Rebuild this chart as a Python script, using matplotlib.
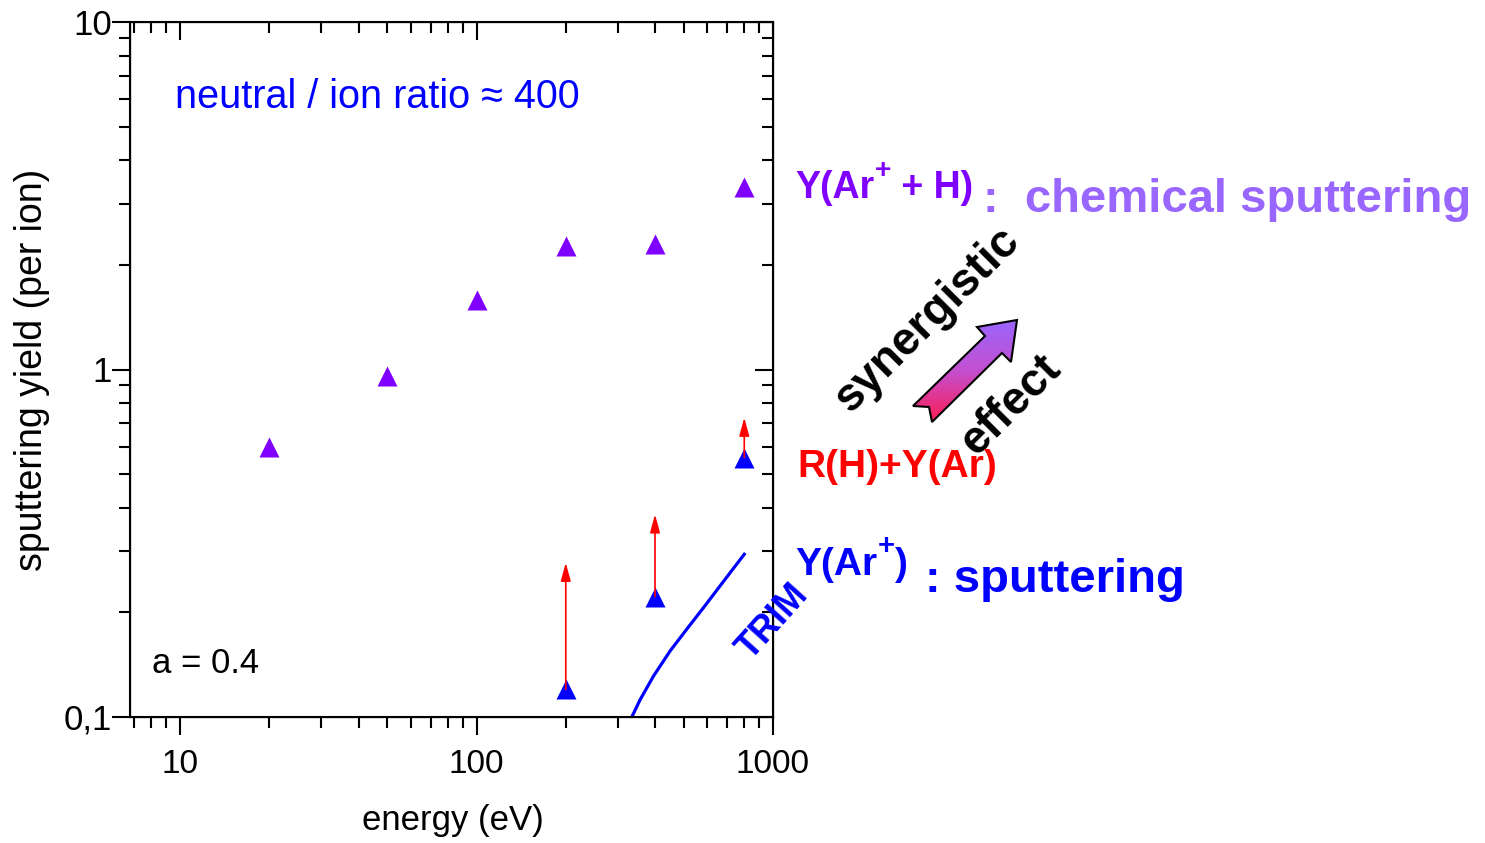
import numpy as np
import matplotlib
matplotlib.use('Agg')
import matplotlib.pyplot as plt
from matplotlib.patches import Polygon
from matplotlib.colors import LinearSegmentedColormap
from matplotlib.ticker import NullFormatter

plt.rcParams['font.family'] = ['Liberation Sans', 'DejaVu Sans']

# Ar+ + H bombardment (a = 0.4)
energy = [20, 50, 100, 200, 400, 800]
yield_ar_h = [0.60, 0.955, 1.58, 2.26, 2.30, 3.36]

# Ar+ alone, and R(H) + Y(Ar) reached on top of it
energy_ar = [200, 400, 800]
yield_ar = [0.12, 0.222, 0.558]
yield_rh_ar = [0.278, 0.383, 0.727]

# TRIM curve
trim_energy = [334, 356, 395, 450, 512, 582, 662, 800]
trim_yield = [0.100, 0.112, 0.131, 0.155, 0.179, 0.206, 0.238, 0.294]

x_ticks = [10, 100, 1000]
x_ticklabels = ['10', '100', '1000']
y_ticks = [0.1, 1, 10]
y_ticklabels = ['0,1', '1', '10']

PURPLE = '#8000ff'
LILAC = '#9966ff'
BLUE = '#0000ff'
RED = '#ff0000'

W, H = 1485, 843
fig = plt.figure(figsize=(W / 100, H / 100), dpi=100)
ax = fig.add_axes([130 / W, 1 - 717 / H, 643 / W, 695 / H])
ax.set_xscale('log')
ax.set_yscale('log')
xlim = (6.78, 1000)
ylim = (0.1, 10)
ax.set_xlim(*xlim)
ax.set_ylim(*ylim)

ax.plot(trim_energy, trim_yield, '-', color=BLUE, lw=2.3, zorder=2)
ax.plot(energy, yield_ar_h, '^', color=PURPLE, ms=14, mec='none', zorder=3)
ax.plot(energy_ar, yield_ar, '^', color=BLUE, ms=14, mec='none', zorder=3)
for e, y0, y1 in zip(energy_ar, yield_ar, yield_rh_ar):
    ax.annotate('', xy=(e, y1), xytext=(e, y0),
                arrowprops=dict(arrowstyle='-|>,head_length=1.1,head_width=0.3',
                                color=RED, lw=1.2, shrinkA=0, shrinkB=0),
                zorder=4)

ax.set_xticks(x_ticks, labels=x_ticklabels)
ax.set_yticks(y_ticks, labels=y_ticklabels)
ax.xaxis.set_minor_formatter(NullFormatter())
ax.yaxis.set_minor_formatter(NullFormatter())
ax.tick_params(which='both', direction='out', width=1.5, top=False, right=False)
ax.tick_params(which='major', length=13)
ax.tick_params(which='minor', length=8)
ax.tick_params(axis='x', pad=10, labelsize=24)
ax.tick_params(axis='y', pad=0, labelsize=25)
for s in ax.spines.values():
    s.set_linewidth(1.5)

# mirrored ticks pointing inwards on top and right
axr = ax.twinx()
axr.set_yscale('log')
axr.set_ylim(*ylim)
axr.set_yticks(y_ticks)
axr.yaxis.set_major_formatter(NullFormatter())
axr.yaxis.set_minor_formatter(NullFormatter())
axr.tick_params(which='both', direction='in', width=1.5, labelright=False)
axr.tick_params(which='major', length=13)
axr.tick_params(which='minor', length=8)

axt = ax.twiny()
axt.set_xscale('log')
axt.set_xlim(*xlim)
axt.set_xticks(x_ticks)
axt.xaxis.set_major_formatter(NullFormatter())
axt.xaxis.set_minor_formatter(NullFormatter())
axt.tick_params(which='both', direction='in', width=1.5, labeltop=False)
axt.tick_params(which='major', length=13)
axt.tick_params(which='minor', length=8)

ax.set_xlabel('energy (eV)', fontsize=25)
ax.xaxis.set_label_coords(0.502, -0.125)
ax.set_ylabel('sputtering yield (per ion)', fontsize=27)
ax.yaxis.set_label_coords(-0.125, 0.5)

# free annotations in figure pixels
ov = fig.add_axes([0, 0, 1, 1])
ov.axis('off')


def chained(x, y, parts, color, size):
    """Write text pieces one after another; (text, True) is a superscript."""
    base = ov.text(x, y, parts[0][0], color=color, fontsize=size,
                   fontweight='bold')
    prev = base
    for txt, sup in parts[1:]:
        fs = size * 0.75 if sup else size
        dy = size * 0.6 if sup else 0
        prev = ov.annotate(txt, xy=(1, 0), xycoords=(prev, base),
                           xytext=(0.5 if sup else 0, dy),
                           textcoords='offset points', ha='left', va='bottom',
                           color=color, fontsize=fs, fontweight='bold')
    return base


ov.text(175, 108, 'neutral / ion ratio \u2248 400', color=BLUE, fontsize=28.5)
ov.text(152, 673, 'a = 0.4', color='black', fontsize=25)

chained(795, 198, [('Y(Ar', False), ('+', True), (' + H)', False)], PURPLE, 27)
ov.text(983, 212, ':  chemical sputtering', color=LILAC, fontsize=34,
        fontweight='bold')
ov.text(797, 477, 'R(H)+Y(Ar)', color=RED, fontsize=28, fontweight='bold')
chained(795, 575, [('Y(Ar', False), ('+', True), (')', False)], BLUE, 28)
ov.text(925, 592, ': sputtering', color=BLUE, fontsize=34, fontweight='bold')
ov.text(773, 622, 'TRIM', color=BLUE, fontsize=26, fontweight='bold',
        rotation=48, ha='center', va='center', rotation_mode='anchor')
ov.text(927, 320, 'synergistic', color='black', fontsize=33, fontweight='bold',
        rotation=45, ha='center', va='center', rotation_mode='anchor')
ov.text(1011, 405, 'effect', color='black', fontsize=33, fontweight='bold',
        rotation=45, ha='center', va='center', rotation_mode='anchor', zorder=1)

# gradient arrow for the synergistic effect
arrow_pts = [(1017, 320), (977, 327), (985, 336), (913, 406), (929, 407),
             (932, 422), (1002, 353), (1011, 362)]
cmap = LinearSegmentedColormap.from_list('syn', [LILAC, '#c44fd0', '#ff1a50'])
grad = np.linspace(0, 1, 256).reshape(-1, 1)
im = ov.imshow(grad, cmap=cmap, extent=(908, 1022, 424, 318), aspect='auto',
               zorder=3)
poly = Polygon(arrow_pts, closed=True, facecolor='none', edgecolor='black',
               lw=1.5, zorder=4)
ov.add_patch(poly)
im.set_clip_path(poly)
ov.set_xlim(0, W)
ov.set_ylim(H, 0)

fig.savefig('out.png', dpi=100)
